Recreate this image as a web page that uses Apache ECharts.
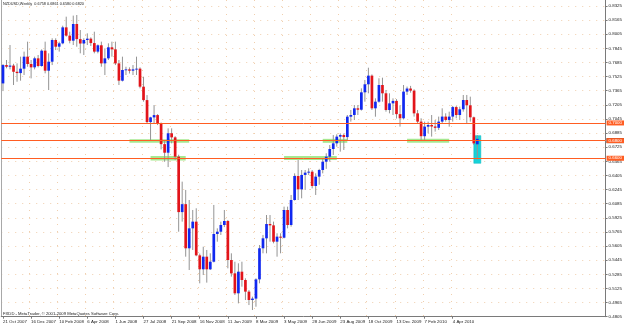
<!DOCTYPE html>
<html><head><meta charset="utf-8">
<script src="https://cdn.jsdelivr.net/npm/echarts@6/dist/echarts.min.js"></script>
<style>html,body{margin:0;padding:0;background:#ffffff;}#c{width:625px;height:326px;}</style>
</head><body><div id="c"></div>
<script>
// ---- data (weekly NZDUSD candles, first week = 21 Oct 2007) ----
const firstWeek = [2007, 9, 21];
const slotCount = 172;
const monthNames = ['Jan','Feb','Mar','Apr','May','Jun','Jul','Aug','Sep','Oct','Nov','Dec'];

const opens = [
0.7448,0.7656,0.7637,0.7650,0.7580,0.7565,0.7615,0.7751,0.7668,0.7630,
0.7732,0.7645,0.7819,0.7592,0.7694,0.7940,0.7864,0.7902,0.8083,0.7989,
0.7932,0.8121,0.7950,0.7900,0.7940,0.7955,0.7905,0.7808,0.7880,0.7675,
0.7732,0.7857,0.7834,0.7675,0.7479,0.7600,0.7607,0.7592,0.7607,0.7615,
0.7411,0.7259,0.7010,0.7063,0.7089,0.6995,0.6760,0.6663,0.6883,0.6837,
0.6618,0.5990,0.6080,0.5580,0.5806,0.5882,0.5500,0.5342,0.5485,0.5342,
0.5428,0.5742,0.5768,0.5844,0.5889,0.5447,0.5296,0.5070,0.5315,0.5221,
0.5089,0.4994,0.5010,0.5228,0.5580,0.5693,0.5855,0.5840,0.5655,0.5712,
0.5700,0.6014,0.5844,0.6127,0.6399,0.6248,0.6411,0.6437,0.6448,0.6286,
0.6392,0.6467,0.6561,0.6618,0.6705,0.6769,0.6845,0.6863,0.6840,0.7071,
0.7090,0.7166,0.7150,0.7347,0.7438,0.7536,0.7166,0.7241,0.7430,0.7336,
0.7147,0.7222,0.7250,0.7100,0.7053,0.7355,0.7390,0.7366,0.7109,0.7015,
0.6850,0.6958,0.6977,0.6960,0.6945,0.7015,0.7072,0.7034,0.7072,0.7180,
0.7090,0.7155,0.7260,0.7200,0.7064,0.6758];
const highs = [
0.7668,0.7713,0.7883,0.7670,0.7675,0.7751,0.7808,0.7921,0.7713,0.7751,
0.7770,0.7834,0.7921,0.7789,0.7959,0.7959,0.7921,0.8102,0.8204,0.8034,
0.8216,0.8223,0.8053,0.7959,0.8015,0.7970,0.8034,0.7890,0.7921,0.7845,
0.7902,0.7921,0.7921,0.7713,0.7751,0.7637,0.7630,0.7656,0.7751,0.7630,
0.7524,0.7316,0.7070,0.7203,0.7100,0.7005,0.6800,0.6939,0.6939,0.6850,
0.6640,0.6335,0.6241,0.6127,0.6014,0.6033,0.5520,0.5598,0.5561,0.5523,
0.6071,0.5806,0.5882,0.6014,0.5901,0.5523,0.5428,0.5410,0.5428,0.5240,
0.5107,0.5032,0.5240,0.5617,0.5731,0.5957,0.5957,0.5882,0.5750,0.5750,
0.6052,0.6052,0.6184,0.6429,0.6580,0.6467,0.6467,0.6486,0.6467,0.6429,
0.6480,0.6599,0.6656,0.6750,0.6863,0.6871,0.6882,0.6880,0.7090,0.7147,
0.7203,0.7203,0.7392,0.7487,0.7626,0.7550,0.7279,0.7506,0.7513,0.7373,
0.7336,0.7279,0.7270,0.7200,0.7430,0.7412,0.7420,0.7381,0.7147,0.7053,
0.7015,0.7015,0.7090,0.7034,0.7072,0.7166,0.7109,0.7128,0.7193,0.7193,
0.7185,0.7317,0.7317,0.7298,0.7072,0.6861];
const lows = [
0.7361,0.7619,0.7607,0.7430,0.7467,0.7479,0.7543,0.7637,0.7505,0.7607,
0.7630,0.7637,0.7562,0.7373,0.7656,0.7826,0.7808,0.7891,0.7978,0.7902,
0.7883,0.7864,0.7789,0.7770,0.7883,0.7872,0.7789,0.7789,0.7637,0.7543,
0.7713,0.7751,0.7656,0.7430,0.7470,0.7543,0.7560,0.7543,0.7543,0.7392,
0.7241,0.7000,0.6806,0.6995,0.6976,0.6700,0.6560,0.6500,0.6769,0.6580,
0.5768,0.5882,0.5485,0.5334,0.5561,0.5490,0.5183,0.5277,0.5191,0.5334,
0.5420,0.5655,0.5731,0.5820,0.5353,0.5259,0.5051,0.4956,0.5145,0.4994,
0.4937,0.4881,0.4918,0.5183,0.5523,0.5523,0.5655,0.5636,0.5485,0.5523,
0.5693,0.5806,0.5825,0.6120,0.6127,0.6146,0.6241,0.6411,0.6259,0.6184,
0.6300,0.6429,0.6480,0.6561,0.6637,0.6731,0.6675,0.6694,0.6807,0.7015,
0.7033,0.7090,0.7140,0.7241,0.7336,0.7147,0.7071,0.7230,0.7241,0.7128,
0.7109,0.7090,0.7050,0.6958,0.7040,0.7317,0.7343,0.7072,0.6989,0.6800,
0.6800,0.6883,0.6845,0.6902,0.6920,0.6996,0.7015,0.6958,0.7015,0.7053,
0.7034,0.7128,0.7000,0.7015,0.6750,0.6580];
const closes = [
0.7656,0.7637,0.7650,0.7580,0.7565,0.7615,0.7751,0.7668,0.7630,0.7732,
0.7645,0.7819,0.7592,0.7694,0.7940,0.7864,0.7902,0.8083,0.7989,0.7932,
0.8121,0.7950,0.7900,0.7940,0.7955,0.7905,0.7808,0.7880,0.7675,0.7732,
0.7857,0.7834,0.7675,0.7479,0.7600,0.7607,0.7592,0.7607,0.7615,0.7411,
0.7259,0.7010,0.7063,0.7089,0.6995,0.6760,0.6663,0.6883,0.6837,0.6618,
0.5990,0.6080,0.5580,0.5806,0.5882,0.5500,0.5342,0.5485,0.5342,0.5428,
0.5742,0.5768,0.5844,0.5889,0.5447,0.5296,0.5070,0.5315,0.5221,0.5089,
0.4994,0.5010,0.5228,0.5580,0.5693,0.5855,0.5840,0.5655,0.5712,0.5700,
0.6014,0.5844,0.6127,0.6399,0.6248,0.6411,0.6437,0.6448,0.6286,0.6392,
0.6467,0.6561,0.6618,0.6705,0.6769,0.6845,0.6863,0.6840,0.7071,0.7090,
0.7166,0.7150,0.7347,0.7438,0.7536,0.7166,0.7241,0.7430,0.7336,0.7147,
0.7222,0.7250,0.7100,0.7053,0.7355,0.7390,0.7366,0.7109,0.7015,0.6850,
0.6958,0.6977,0.6960,0.6945,0.7015,0.7072,0.7034,0.7072,0.7180,0.7090,
0.7155,0.7260,0.7200,0.7064,0.6769,0.6820];

const yTickValues = [0.4805,0.4965,0.5125,0.5285,0.5445,0.5605,0.5765,0.5925,0.6085,0.6245,0.6405,0.6565,
                     0.6725,0.6885,0.7045,0.7205,0.7365,0.7525,0.7685,0.7845,0.8005,0.8165,0.8325];
const priceMin = 0.4805, priceMax = 0.8393;
const levelLines = [0.7000, 0.6800, 0.6600];
const bidPrice = 0.6820;
// zones: week index range and price range
const supportZones = [
  {from: 36, to: 53, low: 0.6775, high: 0.6815},
  {from: 42, to: 52, low: 0.6575, high: 0.6625},
  {from: 80, to: 95, low: 0.6580, high: 0.6625},
  {from: 91, to: 98, low: 0.6775, high: 0.6820},
  {from: 115, to: 127, low: 0.6775, high: 0.6820}
];
const highlightZone = {from: 134, to: 136, low: 0.6543, high: 0.6856};
const lastBarIndex = 135;
const labelEvery = 8;
const headerText = 'NZDUSD,Weekly  0.6758 0.6861 0.6580 0.6820';
const footerText = 'FXDD - MetaTrader, \u00A9 2001-2009 MetaQuotes Software Corp.';

// ---- build ----
const categories = [];
for (let k = 0; k < slotCount; k++) {
  const d = new Date(Date.UTC(firstWeek[0], firstWeek[1], firstWeek[2] + 7 * k));
  categories.push(d.getUTCDate() + ' ' + monthNames[d.getUTCMonth()] + ' ' + d.getUTCFullYear());
}
const candleData = opens.map((o, i) => [i, o, closes[i], lows[i], highs[i]]);
const FONT = 'Liberation Sans';
const FS = 4.4;
const showDate = (idx) => idx % labelEvery === 0 && idx <= lastBarIndex;

function renderCandle(params, api) {
  const i = api.value(0);
  const o = api.value(1), c = api.value(2);
  const pO = api.coord([i, o]), pC = api.coord([i, c]);
  const pL = api.coord([i, api.value(3)]), pH = api.coord([i, api.value(4)]);
  const x = pO[0];
  const top = Math.min(pO[1], pC[1]), bot = Math.max(pO[1], pC[1]);
  const w = 2.7;
  return {
    type: 'group',
    children: [
      {type: 'line', shape: {x1: x, y1: pH[1], x2: x, y2: pL[1]}, style: {stroke: '#949494', lineWidth: 1}},
      {type: 'rect', shape: {x: x - w / 2, y: top, width: w, height: Math.max(bot - top, 0.9)},
       style: {fill: c >= o ? '#1028f0' : '#e2141a'}}
    ]
  };
}

function priceLabel(bg) {
  return {show: true, position: 'end', distance: 1, color: '#ffffff', backgroundColor: bg,
    fontSize: FS, fontFamily: FONT, padding: [0.6, 2, 0.4, 2],
    formatter: p => p.value.toFixed(4)};
}

const chart = echarts.init(document.getElementById('c'), null, {renderer: 'canvas'});
chart.setOption({
  animation: false,
  backgroundColor: '#ffffff',
  title: {text: headerText, left: 3, top: 1.8, padding: 0,
    textStyle: {fontSize: 3.8, fontWeight: 'normal', color: '#1a1a1a', fontFamily: FONT}},
  graphic: [{type: 'text', left: 3, top: 312, silent: true,
    style: {text: footerText, fontSize: 4.2, fill: '#1a1a1a', fontFamily: FONT}}],
  grid: {left: 0, right: 16, top: 0, bottom: 9.3, containLabel: false},
  xAxis: {
    type: 'category', data: categories, boundaryGap: true,
    axisLine: {lineStyle: {color: '#7a7a7a', width: 1}},
    axisTick: {show: true, length: 2, interval: showDate, alignWithLabel: true, lineStyle: {color: '#7a7a7a'}},
    axisLabel: {interval: showDate, align: 'left', margin: 3.2, fontSize: FS, fontFamily: FONT, color: '#222'},
    splitLine: {show: true, interval: showDate, lineStyle: {color: '#f0cfae', type: [1, 6], width: 1}}
  },
  yAxis: [{
    type: 'value', position: 'right', min: priceMin, max: priceMax, scale: true,
    axisLine: {show: true, lineStyle: {color: '#7a7a7a', width: 1}},
    axisTick: {show: true, length: 2, customValues: yTickValues, lineStyle: {color: '#7a7a7a'}},
    axisLabel: {customValues: yTickValues, margin: 3, fontSize: FS, fontFamily: FONT, color: '#222',
      formatter: v => v.toFixed(4)},
    splitLine: {show: true, lineStyle: {color: '#f0cfae', type: [1, 6], width: 1}}
  }, {
    type: 'value', position: 'left', min: priceMin, max: priceMax, scale: true,
    axisLine: {show: true, onZero: false, lineStyle: {color: '#a8a8a8', width: 1}},
    axisTick: {show: false}, axisLabel: {show: false}, splitLine: {show: false}
  }],
  series: [
    {
      type: 'line', data: [], z: 1, silent: true,
      markArea: {silent: true, data:
        supportZones.map(zn => [
          {xAxis: categories[zn.from], yAxis: zn.high, itemStyle: {color: '#a6e890'}},
          {xAxis: categories[zn.to], yAxis: zn.low}
        ]).concat([[
          {xAxis: categories[highlightZone.from], yAxis: highlightZone.high, itemStyle: {color: '#16d2d8', borderColor: '#10b8c0', borderWidth: 0.5}},
          {xAxis: categories[highlightZone.to], yAxis: highlightZone.low}
        ]])
      }
    },
    {
      type: 'line', data: [], z: 2, silent: true,
      markLine: {silent: true, symbol: 'none', animation: false, data:
        [{yAxis: bidPrice, lineStyle: {color: '#c4c4c4', width: 1, type: 'solid'}, label: priceLabel('#141414')}]
        .concat(levelLines.map(v => ({yAxis: v, lineStyle: {color: '#ff5d22', width: 1, type: 'solid'}, label: priceLabel('#ff5d22')})))
      }
    },
    {
      type: 'custom', name: 'NZDUSD', data: candleData, z: 3,
      encode: {x: 0, y: [1, 2, 3, 4]},
      renderItem: renderCandle
    }
  ]
});
</script>
</body></html>
